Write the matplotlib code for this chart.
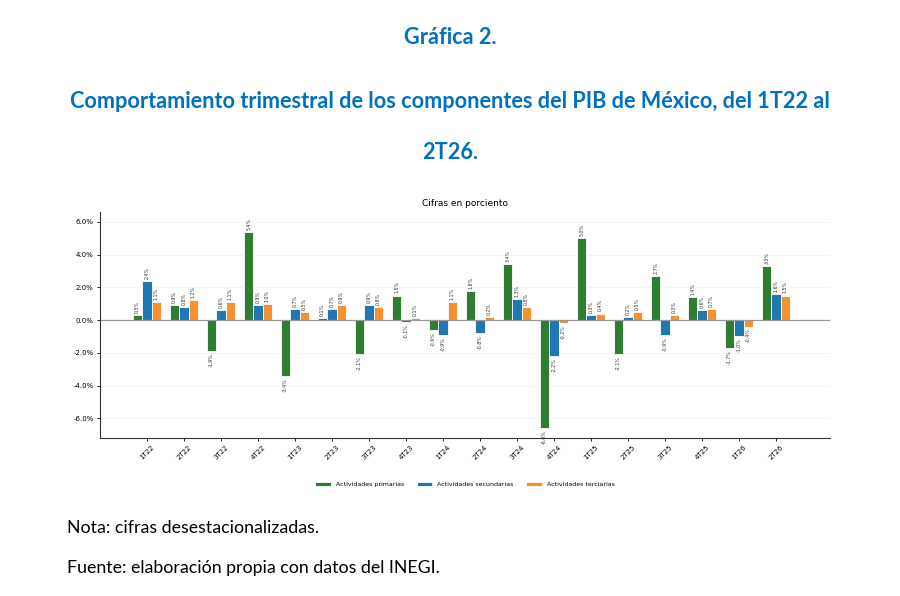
import matplotlib
matplotlib.use("Agg")
import matplotlib.pyplot as plt
import numpy as np

trimestres = ["1T22", "2T22", "3T22", "4T22", "1T23", "2T23", "3T23", "4T23", "1T24",
              "2T24", "3T24", "4T24", "1T25", "2T25", "3T25", "4T25", "1T26", "2T26"]
primarias = [0.3, 0.9, -1.9, 5.4, -3.4, 0.1, -2.1, 1.5, -0.6,
             1.8, 3.4, -6.6, 5.0, -2.1, 2.7, 1.4, -1.7, 3.3]
secundarias = [2.4, 0.8, 0.6, 0.9, 0.7, 0.7, 0.9, -0.1, -0.9,
               -0.8, 1.3, -2.2, 0.3, 0.2, -0.9, 0.6, -1.0, 1.6]
terciarias = [1.1, 1.2, 1.1, 1.0, 0.5, 0.9, 0.8, 0.1, 1.1,
              0.2, 0.8, -0.2, 0.4, 0.5, 0.3, 0.7, -0.4, 1.5]
series = ["Actividades primarias", "Actividades secundarias", "Actividades terciarias"]
colores = ["#2E7D32", "#1F77B4", "#F5922F"]

azul = "#0070C0"
fig = plt.figure(figsize=(9, 5.96), dpi=100)

fig.text(0.5, 1 - 37/596, "Gráfica 2.", ha="center", va="center",
         fontsize=15.6, fontweight="bold", color=azul, family="Lato")
fig.text(0.5, 1 - 102/596, "Comportamiento trimestral de los componentes del PIB de México, del 1T22 al",
         ha="center", va="center", fontsize=15.6, fontweight="bold", color=azul, family="Lato")
fig.text(0.5, 1 - 152/596, "2T26.", ha="center", va="center",
         fontsize=15.6, fontweight="bold", color=azul, family="Lato")
fig.text(67/900, 1 - 528/596, "Nota: cifras desestacionalizadas.", ha="left", va="center",
         fontsize=12.8, family="Lato")
fig.text(67/900, 1 - 568/596, "Fuente: elaboración propia con datos del INEGI.", ha="left", va="center",
         fontsize=12.8, family="Lato")

ax = fig.add_axes([100/900, 1 - 438/596, 730/900, 226/596])
x = np.arange(len(trimestres))
w = 0.25
for i, (vals, nombre, c) in enumerate(zip([primarias, secundarias, terciarias], series, colores)):
    bars = ax.bar(x + (i - 1) * w, vals, w, color=c, edgecolor="white", linewidth=0.6, label=nombre)
    for b, v in zip(bars, vals):
        ax.annotate(f"{v:.1f}%", (b.get_x() + b.get_width()/2, v),
                    xytext=(0, 1.5 if v >= 0 else -1.5), textcoords="offset points",
                    ha="center", va="bottom" if v >= 0 else "top",
                    rotation=90, fontsize=3.4, color="#333333")

ax.axhline(0, color="#999999", linewidth=0.9)
ax.set_xlim(-1.27, 18.46)
ax.set_ylim(-7.2, 6.6)
ax.set_yticks([-6, -4, -2, 0, 2, 4, 6])
ax.set_yticklabels([f"{t:.1f}%" for t in [-6, -4, -2, 0, 2, 4, 6]], fontsize=5)
ax.set_xticks(x)
ax.set_xticklabels(trimestres, rotation=45, fontsize=5)
ax.tick_params(length=2.5, width=0.6, pad=2)
ax.yaxis.grid(True, linestyle=":", color="#dddddd", linewidth=0.6)
ax.set_axisbelow(True)
for s in ["top", "right"]:
    ax.spines[s].set_visible(False)
for s in ["left", "bottom"]:
    ax.spines[s].set_color("#333333")
    ax.spines[s].set_linewidth(0.8)
ax.set_title("Cifras en porciento", fontsize=6.5, pad=4)

ax.legend(loc="upper center", bbox_to_anchor=(0.5, -0.17), ncol=3, frameon=False,
          fontsize=4.5, handlelength=2.5, handleheight=0.6, columnspacing=2)

fig.savefig("out.png", dpi=100)
